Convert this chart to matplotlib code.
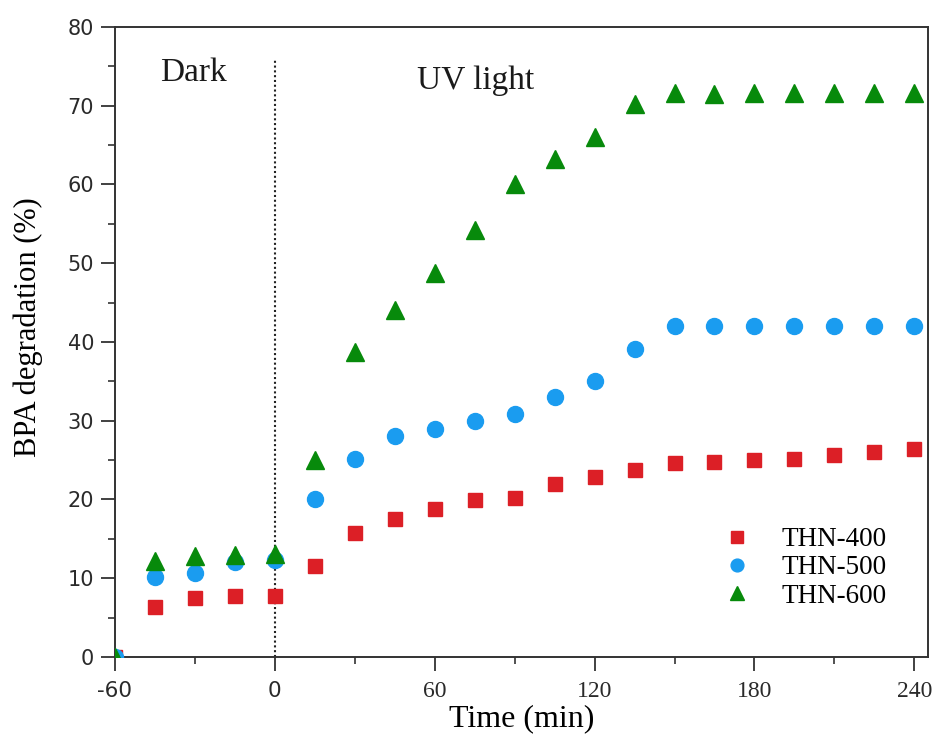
import matplotlib
matplotlib.use("Agg")
import matplotlib.pyplot as plt
from matplotlib.ticker import MultipleLocator

plt.rcParams['font.family'] = ['Liberation Serif', 'DejaVu Serif']
plt.rcParams['axes.unicode_minus'] = False

# time points (min)
time = [-60, -45, -30, -15, 0, 15, 30, 45, 60, 75, 90, 105, 120, 135,
        150, 165, 180, 195, 210, 225, 240]

thn_400 = [0, 6.3, 7.5, 7.7, 7.8, 11.5, 15.7, 17.5, 18.8, 19.9, 20.2, 22.0,
           22.8, 23.8, 24.6, 24.7, 25.0, 25.2, 25.7, 26.0, 26.4]
thn_500 = [0, 10.1, 10.7, 12.0, 12.3, 20.0, 25.2, 28.0, 29.0, 30.0, 30.8, 33.0,
           35.0, 39.1, 42.0, 42.0, 42.0, 42.0, 42.0, 42.0, 42.0]
thn_600 = [0, 12.2, 12.8, 12.9, 13.1, 25.0, 38.7, 44.1, 48.8, 54.2, 60.0, 63.2,
           66.0, 70.2, 71.6, 71.5, 71.6, 71.6, 71.6, 71.6, 71.6]

x_ticks = [-60, 0, 60, 120, 180, 240]
x_labels = ['-60', '0', '60', '120', '180', '240']
y_ticks = [0, 10, 20, 30, 40, 50, 60, 70, 80]

fig = plt.figure(figsize=(9.37, 7.42), dpi=100)
ax = fig.add_axes([0.1227, 0.1146, 0.8673, 0.849])

ax.plot(time, thn_400, 's', color='#dc1f26', markersize=10.5, label='THN-400', zorder=3)
ax.plot(time, thn_500, 'o', color='#1a9cf0', markersize=11.5, label='THN-500', zorder=4)
ax.plot(time, thn_600, '^', color='#078a0b', markersize=13, label='THN-600', zorder=5)

# dark / light boundary
ax.plot([0, 0], [0, 76], linestyle=(0, (1, 1.3)), color='#222222', linewidth=1.5, zorder=2)
ax.text(-43, 74.2, 'Dark', fontsize=24, va='center', ha='left', color='#1a1a1a')
ax.text(53.5, 73.2, 'UV light', fontsize=24, va='center', ha='left', color='#1a1a1a')

ax.set_xlim(-60, 245)
ax.set_ylim(0, 80)
ax.set_xticks(x_ticks, x_labels)
ax.set_yticks(y_ticks)
ax.xaxis.set_minor_locator(MultipleLocator(30))
ax.yaxis.set_minor_locator(MultipleLocator(5))
ax.tick_params(which='major', direction='out', length=10, width=1.3,
               colors='#333333', labelcolor='#2a2a2a', top=False, right=False)
ax.tick_params(which='minor', direction='out', length=5, width=1.2,
               colors='#333333', top=False, right=False)
ax.tick_params(axis='x', labelsize=17, pad=7)
ax.tick_params(axis='y', labelsize=15, pad=5)
for lab in ax.get_yticklabels():
    lab.set_fontfamily('DejaVu Sans')
for lab in ax.get_xticklabels()[:2]:
    lab.set_fontfamily('DejaVu Sans')
    lab.set_fontsize(15.5)
for s in ax.spines.values():
    s.set_linewidth(1.4)
    s.set_color('#333333')

ax.set_xlabel('Time (min)', fontsize=23, labelpad=2)
ax.set_ylabel('BPA degradation (%)', fontsize=22)
ax.yaxis.set_label_coords(-0.088, 0.524)

ax.legend(loc='upper left', bbox_to_anchor=(0.71, 0.245), frameon=False,
          fontsize=19.5, handletextpad=0.9, labelspacing=0.12, handlelength=1.5,
          markerscale=0.8)

fig.savefig('out.png', dpi=100)
